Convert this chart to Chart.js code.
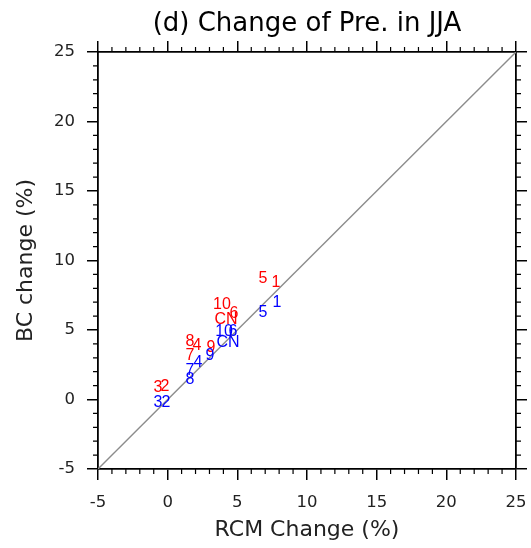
<!DOCTYPE html>
<html><head><meta charset="utf-8">
<script src="https://cdn.jsdelivr.net/npm/chart.js@4.4.0/dist/chart.umd.min.js"></script>
<style>html,body{margin:0;padding:0;background:#fff}#wrap{width:531px;height:548px}</style>
</head><body><div id="wrap"><canvas id="c" width="531" height="548"></canvas></div>
<script>
// ---- data ----
const pointLabels = ['1','2','3','4','5','6','7','8','9','10','CN'];
const redX  = [7.78, -0.19, -0.69, 2.11, 6.84, 4.76, 1.60, 1.60, 3.11, 3.90, 4.19];
const redY  = [8.38,  0.90,  0.83, 3.85, 8.67, 6.15, 3.13, 4.14, 3.71, 6.80, 5.72];
const blueX = [7.85, -0.12, -0.69, 2.18, 6.84, 4.69, 1.60, 1.60, 3.04, 4.05, 4.33];
const blueY = [6.94, -0.25, -0.25, 2.63, 6.22, 4.86, 2.05, 1.40, 3.13, 4.86, 4.06];
const diagX = [-5, 25];
const diagY = [-5, 25];
const axisMin = -5, axisMax = 25, majorStep = 5, minorStep = 1;
const titleText = '(d) Change of Pre. in JJA';
const xTitle = 'RCM Change (%)';
const yTitle = 'BC change (%)';

const FONT = '"DejaVu Sans", sans-serif';
const MFONT = '"Liberation Sans", Arial, sans-serif';
const toPts = (xs, ys) => xs.map((x, i) => ({x: x, y: ys[i]}));

const textMarkers = {
  id: 'textMarkers',
  afterDatasetsDraw(chart) {
    const ctx = chart.ctx;
    chart.data.datasets.forEach((ds, di) => {
      if (!ds.textLabels) return;
      const meta = chart.getDatasetMeta(di);
      ctx.save();
      ctx.font = '16px ' + MFONT;
      ctx.fillStyle = ds.textColor;
      ctx.textAlign = 'center';
      ctx.textBaseline = 'middle';
      meta.data.forEach((el, i) => ctx.fillText(ds.textLabels[i], el.x, el.y));
      ctx.restore();
    });
  }
};

const minorTicks = {
  id: 'minorTicks',
  afterDraw(chart) {
    const ctx = chart.ctx, a = chart.chartArea, len = 5;
    ctx.save();
    ctx.strokeStyle = '#000';
    ctx.lineWidth = 1.2;
    ctx.beginPath();
    for (let v = axisMin; v <= axisMax; v += minorStep) {
      if (v % majorStep === 0) continue;
      const px = chart.scales.x.getPixelForValue(v);
      const py = chart.scales.y.getPixelForValue(v);
      ctx.moveTo(px, a.bottom); ctx.lineTo(px, a.bottom + len);
      ctx.moveTo(px, a.top); ctx.lineTo(px, a.top - len);
      ctx.moveTo(a.left, py); ctx.lineTo(a.left - len, py);
      ctx.moveTo(a.right, py); ctx.lineTo(a.right + len, py);
    }
    ctx.stroke();
    ctx.restore();
  }
};

const tickFont = {family: FONT, size: 16.5};
const gridOpts = {drawOnChartArea: false, drawTicks: true, tickLength: 11, color: '#000', lineWidth: 1.5};
const borderOpts = {display: true, color: '#000', width: 1.8};
const baseLin = (pos) => ({
  type: 'linear', position: pos, min: axisMin, max: axisMax,
  grid: gridOpts, border: borderOpts
});
const noPadH = (s) => { s.paddingLeft = 0; s.paddingRight = 0; };
const noPadV = (s) => { s.paddingTop = 0; s.paddingBottom = 0; };

new Chart(document.getElementById('c'), {
  type: 'scatter',
  data: {
    datasets: [
      {data: toPts(diagX, diagY), showLine: true, borderColor: '#8c8c8c', borderWidth: 1.4, pointRadius: 0, order: 3},
      {data: toPts(redX, redY), pointRadius: 0, textLabels: pointLabels, textColor: '#ff0000', order: 2},
      {data: toPts(blueX, blueY), pointRadius: 0, textLabels: pointLabels, textColor: '#0000ff', order: 1}
    ]
  },
  options: {
    responsive: false, animation: false, devicePixelRatio: 1,
    layout: {padding: 0},
    plugins: {legend: {display: false}, tooltip: {enabled: false}, title: {display: false}},
    scales: {
      x: Object.assign(baseLin('bottom'), {
        ticks: {stepSize: majorStep, color: '#222', font: tickFont, padding: 13, maxRotation: 0},
        title: {display: true, text: xTitle, color: '#222', font: {family: FONT, size: 22, lineHeight: 1.2}, padding: {top: 0, bottom: 5}},
        afterFit(s) { s.height = 79; noPadH(s); }
      }),
      x2: Object.assign(baseLin('top'), {
        ticks: {stepSize: majorStep, display: false},
        title: {display: true, text: titleText, color: '#000', font: {family: FONT, size: 26, lineHeight: 1.2}, padding: {top: 9, bottom: 0}},
        afterFit(s) { s.height = 52; noPadH(s); }
      }),
      y: Object.assign(baseLin('left'), {
        ticks: {stepSize: majorStep, color: '#222', font: tickFont, padding: 12},
        title: {display: true, text: yTitle, color: '#222', font: {family: FONT, size: 22, lineHeight: 1.2}, padding: {top: 13, bottom: 0}},
        afterFit(s) { s.width = 98; noPadV(s); }
      }),
      y2: Object.assign(baseLin('right'), {
        ticks: {stepSize: majorStep, display: false},
        afterFit(s) { s.width = 15; noPadV(s); }
      })
    }
  },
  plugins: [textMarkers, minorTicks]
});
</script>
</body></html>
